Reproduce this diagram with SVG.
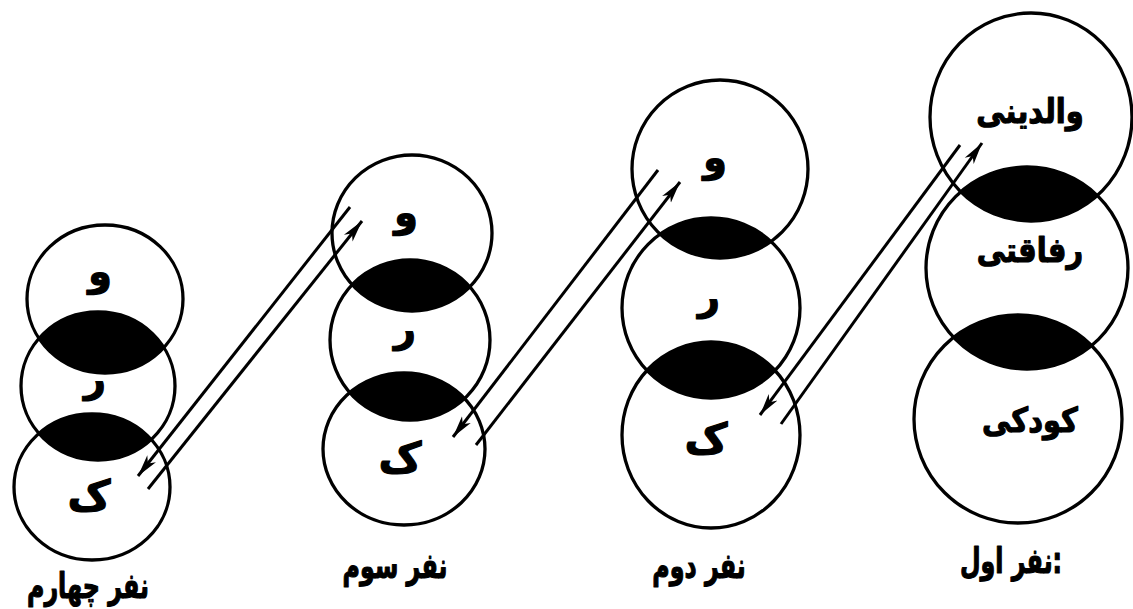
<svg xmlns="http://www.w3.org/2000/svg" width="1133" height="609" viewBox="0 0 1133 609">
<style>
.c{fill:none;stroke:#000;stroke-width:3.3}
.lens{fill:#000}
.t{font-family:"DejaVu Sans",sans-serif;font-weight:bold;fill:#000;stroke:#000;stroke-width:1.2;stroke-linejoin:round;text-anchor:middle;direction:rtl}
.s{font-size:38px}
.k{font-size:42px}
.w{font-size:34px}
.lbl{font-size:35px}
.ln{stroke:#000;stroke-width:3;fill:none}
</style>
<defs>
<marker id="ah" markerUnits="userSpaceOnUse" markerWidth="24" markerHeight="14" refX="22" refY="7" orient="auto">
<path d="M0,1.5 L22,7 L0,12.5 L6,7 z" fill="#000"/>
</marker>
<clipPath id="k4b"><ellipse cx="98" cy="386" rx="77" ry="74"/></clipPath>
<clipPath id="k4c"><ellipse cx="92" cy="487" rx="78" ry="73"/></clipPath>
<clipPath id="k3b"><ellipse cx="410" cy="340" rx="80" ry="80"/></clipPath>
<clipPath id="k3c"><ellipse cx="404" cy="449" rx="81" ry="76"/></clipPath>
<clipPath id="k2b"><ellipse cx="711" cy="308" rx="89" ry="90"/></clipPath>
<clipPath id="k2c"><ellipse cx="711" cy="435" rx="89" ry="93"/></clipPath>
<clipPath id="k1b"><ellipse cx="1027" cy="268" rx="101" ry="101"/></clipPath>
<clipPath id="k1c"><ellipse cx="1018" cy="419" rx="104" ry="104"/></clipPath>
</defs>
<rect width="1133" height="609" fill="#fff"/>

<g id="node-4">
<ellipse class="lens" cx="105" cy="299" rx="78" ry="74" clip-path="url(#k4b)"/>
<ellipse class="lens" cx="98" cy="386" rx="77" ry="74" clip-path="url(#k4c)"/>
<ellipse class="c" cx="105" cy="299" rx="78" ry="74"/>
<ellipse class="c" cx="98" cy="386" rx="77" ry="74"/>
<ellipse class="c" cx="92" cy="487" rx="78" ry="73"/>
<text class="t s" x="100" y="285">و</text>
<text class="t s" x="95" y="392">ر</text>
<text class="t k" x="89" y="510">ک</text>
<text class="t lbl" transform="translate(88,598) scale(0.68,1)">نفر چهارم</text>
</g>

<g id="node-3">
<ellipse class="lens" cx="412" cy="233" rx="80" ry="78" clip-path="url(#k3b)"/>
<ellipse class="lens" cx="410" cy="340" rx="80" ry="80" clip-path="url(#k3c)"/>
<ellipse class="c" cx="412" cy="233" rx="80" ry="78"/>
<ellipse class="c" cx="410" cy="340" rx="80" ry="80"/>
<ellipse class="c" cx="404" cy="449" rx="81" ry="76"/>
<text class="t s" x="406" y="226">و</text>
<text class="t s" x="405" y="342">ر</text>
<text class="t k" x="400" y="472">ک</text>
<text class="t lbl" transform="translate(395,578) scale(0.68,1)">نفر سوم</text>
</g>

<g id="node-2">
<ellipse class="lens" cx="720" cy="169" rx="88" ry="89" clip-path="url(#k2b)"/>
<ellipse class="lens" cx="711" cy="308" rx="89" ry="90" clip-path="url(#k2c)"/>
<ellipse class="c" cx="720" cy="169" rx="88" ry="89"/>
<ellipse class="c" cx="711" cy="308" rx="89" ry="90"/>
<ellipse class="c" cx="711" cy="435" rx="89" ry="93"/>
<text class="t s" x="715" y="171">و</text>
<text class="t s" x="709" y="310">ر</text>
<text class="t k" x="706" y="453">ک</text>
<text class="t lbl" transform="translate(699,578) scale(0.68,1)">نفر دوم</text>
</g>

<g id="node-1">
<ellipse class="lens" cx="1031" cy="117" rx="101" ry="104" clip-path="url(#k1b)"/>
<ellipse class="lens" cx="1027" cy="268" rx="101" ry="101" clip-path="url(#k1c)"/>
<ellipse class="c" cx="1031" cy="117" rx="101" ry="104"/>
<ellipse class="c" cx="1027" cy="268" rx="101" ry="101"/>
<ellipse class="c" cx="1018" cy="419" rx="104" ry="104"/>
<text class="t w" transform="translate(1030,123) scale(0.85,1)">والدینی</text>
<text class="t w" transform="translate(1030,262) scale(0.85,1)">رفاقتی</text>
<text class="t w" transform="translate(1030,432) scale(0.85,1)">کودکی</text>
<text class="t lbl" transform="translate(1011,573) scale(0.68,1)">:نفر اول</text>
</g>

<g id="connectors">
<line class="ln" x1="350" y1="207" x2="138" y2="476" marker-end="url(#ah)"/>
<line class="ln" x1="148" y1="489" x2="362" y2="221" marker-end="url(#ah)"/>
<line class="ln" x1="658" y1="170" x2="453" y2="437" marker-end="url(#ah)"/>
<line class="ln" x1="476" y1="445" x2="680" y2="182" marker-end="url(#ah)"/>
<line class="ln" x1="960" y1="145" x2="760" y2="415" marker-end="url(#ah)"/>
<line class="ln" x1="781" y1="424" x2="982" y2="143" marker-end="url(#ah)"/>
</g>
</svg>
